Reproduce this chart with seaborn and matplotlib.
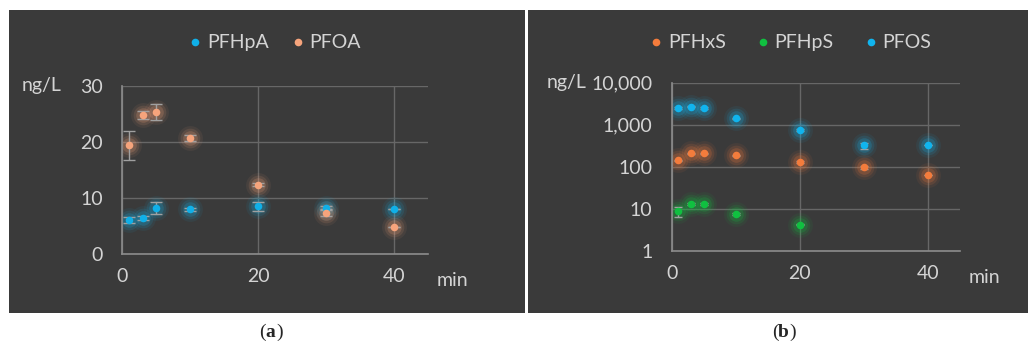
import numpy as np
import pandas as pd
import matplotlib
matplotlib.use("Agg")
import matplotlib.pyplot as plt
from matplotlib.patches import Rectangle
from matplotlib.lines import Line2D
import seaborn as sns

sns.set_theme(style="dark")
plt.rcParams['font.family'] = ['Lato', 'DejaVu Sans']

# Data
minutes = [1, 3, 5, 10, 20, 30, 40]

pfhpa = [6.1, 6.4, 8.2, 8.0, 8.5, 8.2, 8.0]
pfhpa_err = [0.5, 0.3, 1.0, 0.3, 0.8, 0.4, 0.0]
pfoa = [19.4, 24.8, 25.4, 20.7, 12.4, 7.4, 4.9]
pfoa_err = [2.6, 0.7, 1.4, 0.6, 0.3, 0.6, 0.0]

pfhxs = [141, 208, 208, 186, 129, 98, 63]
pfhxs_err = [5, 6, 6, 5, 4, 8, 0]
pfhps_min = [1, 3, 5, 10, 20]
pfhps = [8.8, 12.9, 12.9, 7.5, 4.2]
pfhps_err = [2.3, 0.5, 0.5, 0.4, 0.2]
pfos = [2500, 2680, 2500, 1420, 745, 320, 320]
pfos_err = [80, 80, 80, 60, 30, 55, 0]

log_ticks = [1, 10, 100, 1000, 10000]
log_labels = ["1", "10", "100", "1,000", "10,000"]

BG = "#3a3a3a"
TXT = "#d4d4d4"
GRID = "#676767"
SPINE = "#8c8c8c"
ERR = "#a0a0a0"

fig = plt.figure(figsize=(10.28, 3.49), dpi=100)
fig.patch.set_facecolor("white")

# dark panel backgrounds
fig.patches.append(Rectangle((0.0088, 0.1032), 0.5015, 0.868, transform=fig.transFigure,
                             facecolor=BG, edgecolor="none", zorder=-10))
fig.patches.append(Rectangle((0.5136, 0.1032), 0.4864, 0.868, transform=fig.transFigure,
                             facecolor=BG, edgecolor="none", zorder=-10))

ax1 = fig.add_axes([0.119, 0.2722, 0.2971, 0.4814])
ax2 = fig.add_axes([0.6534, 0.2817, 0.2805, 0.4814])


def draw_series(ax, x, y, err, color, label, cap=4):
    df = pd.DataFrame({"min": x, "val": y})
    # soft glow behind the dots
    for s, a in [(320, 0.07), (200, 0.12), (110, 0.2)]:
        sns.scatterplot(data=df, x="min", y="val", ax=ax, s=s, color=color,
                        alpha=a, linewidth=0, legend=False, zorder=2)
    ax.errorbar(x, y, yerr=err, fmt="none", ecolor=ERR, elinewidth=1.0,
                capsize=cap, capthick=1.0, zorder=3)
    sns.scatterplot(data=df, x="min", y="val", ax=ax, s=30, color=color,
                    linewidth=0, legend=False, zorder=4)
    return Line2D([], [], marker="o", linestyle="none", markersize=5.5,
                  markerfacecolor=color, markeredgewidth=0, label=label)


def style_axes(ax):
    ax.set_facecolor("none")
    ax.set_xlim(0, 45)
    ax.set_xticks([0, 20, 40])
    ax.grid(True, color=GRID, linewidth=1.0)
    ax.set_axisbelow(True)
    for side in ["top", "right"]:
        ax.spines[side].set_visible(False)
    for side in ["left", "bottom"]:
        ax.spines[side].set_visible(True)
        ax.spines[side].set_color(SPINE)
        ax.spines[side].set_linewidth(1.2)
    ax.tick_params(axis="both", length=0, colors=TXT, labelsize=14)
    ax.tick_params(axis="x", pad=10)
    ax.tick_params(axis="y", pad=14)
    ax.set_xlabel("")
    ax.set_ylabel("")


# (a)
h1 = draw_series(ax1, minutes, pfhpa, pfhpa_err, "#10b0e8", "PFHpA")
h2 = draw_series(ax1, minutes, pfoa, pfoa_err, "#f6a47c", "PFOA")
style_axes(ax1)
ax1.set_ylim(0, 30)
ax1.set_yticks([0, 10, 20, 30])
ax1.text(-0.33, 1.0, "ng/L", transform=ax1.transAxes, color=TXT, fontsize=14,
         ha="left", va="center")
ax1.text(1.03, -0.16, "min", transform=ax1.transAxes, color=TXT, fontsize=14,
         ha="left", va="center")
fig.legend(handles=[h1, h2], loc="center", bbox_to_anchor=(0.266, 0.877), ncol=2,
           frameon=False, fontsize=14, labelcolor=TXT, handletextpad=0.1,
           columnspacing=1.0, handlelength=1.0)

# (b)
g1 = draw_series(ax2, minutes, pfhxs, pfhxs_err, "#f47c3c", "PFHxS", cap=3)
g2 = draw_series(ax2, pfhps_min, pfhps, pfhps_err, "#10c040", "PFHpS", cap=3)
g3 = draw_series(ax2, minutes, pfos, pfos_err, "#10b4ee", "PFOS", cap=3)
ax2.set_yscale("log")
style_axes(ax2)
ax2.set_ylim(1, 10000)
ax2.set_yticks(log_ticks)
ax2.set_yticklabels(log_labels)
ax2.yaxis.set_minor_locator(matplotlib.ticker.NullLocator())
ax2.text(-0.435, 1.0, "ng/L", transform=ax2.transAxes, color=TXT, fontsize=14,
         ha="left", va="center")
ax2.text(1.03, -0.16, "min", transform=ax2.transAxes, color=TXT, fontsize=14,
         ha="left", va="center")
fig.legend(handles=[g1, g2, g3], loc="center", bbox_to_anchor=(0.7675, 0.877), ncol=3,
           frameon=False, fontsize=14, labelcolor=TXT, handletextpad=0.1,
           columnspacing=1.4, handlelength=1.0)

# captions
fig.text(0.258, 0.048, "(", fontsize=14, family="Liberation Serif", ha="right", va="center")
fig.text(0.258, 0.048, "a", fontsize=14, family="Liberation Serif", fontweight="bold",
         ha="left", va="center")
fig.text(0.2685, 0.048, ")", fontsize=14, family="Liberation Serif", ha="left", va="center")
fig.text(0.757, 0.048, "(", fontsize=14, family="Liberation Serif", ha="right", va="center")
fig.text(0.757, 0.048, "b", fontsize=14, family="Liberation Serif", fontweight="bold",
         ha="left", va="center")
fig.text(0.768, 0.048, ")", fontsize=14, family="Liberation Serif", ha="left", va="center")

fig.savefig("out.png", dpi=100, facecolor=fig.get_facecolor())
